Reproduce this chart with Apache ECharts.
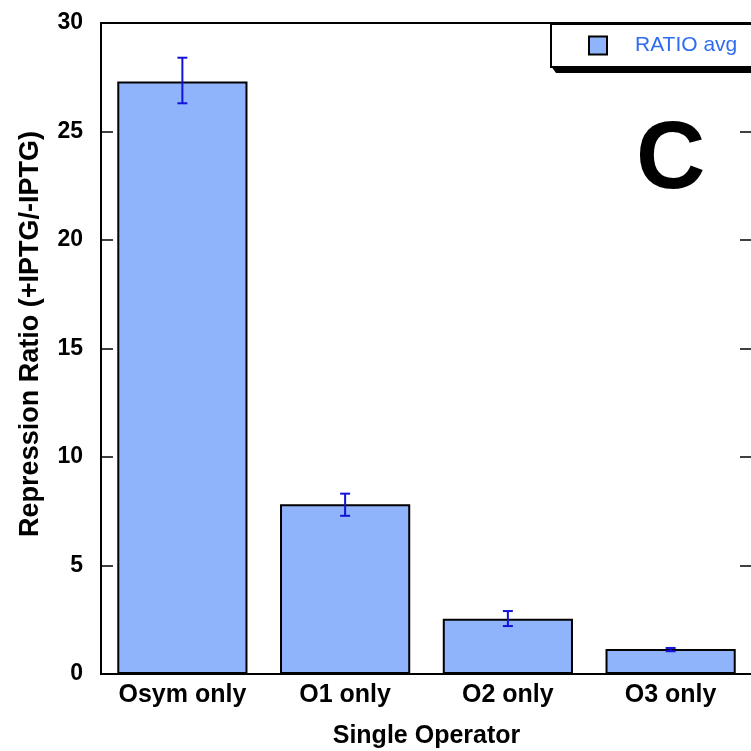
<!DOCTYPE html>
<html>
<head>
<meta charset="utf-8">
<script src="https://cdn.jsdelivr.net/npm/echarts@6/dist/echarts.min.js"></script>
<style>
  html, body { margin: 0; padding: 0; background: #fff; }
  #chart { width: 751px; height: 751px; }
</style>
</head>
<body>
<div id="chart"></div>
<script>
  // data
  var categories = ['Osym only', 'O1 only', 'O2 only', 'O3 only'];
  var ratioAvg = [27.3, 7.82, 2.55, 1.15];
  var errLow = [26.3, 7.29, 2.21, 1.05];
  var errHigh = [28.4, 8.31, 2.90, 1.20];
  var yTicks = [0, 5, 10, 15, 20, 25, 30];

  var font = 'Liberation Sans, Arial, sans-serif';
  var chart = echarts.init(document.getElementById('chart'));

  var errData = categories.map(function (c, i) {
    return [i, errLow[i], errHigh[i]];
  });

  chart.setOption({
    animation: false,
    backgroundColor: '#fff',
    grid: {
      left: 101, right: -1, top: 23, bottom: 77,
      containLabel: false,
      outerBoundsMode: 'none',
      show: true, borderColor: '#000', borderWidth: 2
    },
    legend: {
      left: 588, top: 35,
      padding: 0,
      itemWidth: 18, itemHeight: 18,
      data: [{ name: 'RATIO avg', icon: 'rect' }],
      textStyle: { color: '#2f6cf2', fontSize: 21, fontFamily: font, padding: [0, 0, 0, 23] }
    },
    graphic: [
      // legend frame with its drop shadow
      { type: 'polygon', z: 1, shape: { points: [[551, 66], [556, 73], [770, 73], [770, 66]] }, style: { fill: '#000' } },
      { type: 'rect', z: 2, shape: { x: 551, y: 24, width: 230, height: 43 }, style: { fill: '#fff', stroke: '#000', lineWidth: 2 } },
      {
        type: 'text', z: 5, left: 636, top: 114,
        style: { text: 'C', fontSize: 96, fontWeight: 'bold', fontFamily: font, fill: '#000' }
      },
      {
        type: 'text', z: 5, x: 31, y: 334, rotation: Math.PI / 2,
        style: {
          text: 'Repression Ratio (+IPTG/-IPTG)', fontSize: 27, fontWeight: 'bold', fontFamily: font,
          fill: '#000', align: 'center', verticalAlign: 'middle'
        }
      }
    ],
    xAxis: {
      type: 'category',
      data: categories,
      name: 'Single Operator',
      nameLocation: 'middle',
      nameGap: 50,
      nameTextStyle: { fontSize: 25, fontWeight: 'bold', fontFamily: font, color: '#000' },
      axisLine: { lineStyle: { color: '#000', width: 2 } },
      axisTick: { inside: true, length: 11, lineStyle: { color: '#000', width: 1.5 } },
      axisLabel: { interval: 0, hideOverlap: false, margin: 9, fontSize: 25, fontWeight: 'bold', fontFamily: font, color: '#000' }
    },
    yAxis: [{
      type: 'value',
      min: yTicks[0], max: yTicks[yTicks.length - 1], interval: 5,
      axisLine: { show: true, lineStyle: { color: '#000', width: 2 } },
      axisTick: { show: true, inside: true, length: 12, lineStyle: { color: '#000', width: 1.5 } },
      axisLabel: { margin: 18, fontSize: 23, fontWeight: 'bold', fontFamily: font, color: '#000' },
      splitLine: { show: false }
    }, {
      type: 'value', position: 'right',
      min: yTicks[0], max: yTicks[yTicks.length - 1], interval: 5,
      axisLine: { show: true, lineStyle: { color: '#000', width: 2 } },
      axisTick: { show: true, inside: true, length: 12, lineStyle: { color: '#000', width: 1.5 } },
      axisLabel: { show: false },
      splitLine: { show: false }
    }],
    series: [{
      name: 'RATIO avg',
      type: 'bar',
      data: ratioAvg,
      barWidth: '80%',
      itemStyle: { color: '#90b4fc', borderColor: '#000', borderWidth: 2 }
    }, {
      type: 'custom',
      data: errData,
      z: 10,
      renderItem: function (params, api) {
        var x = api.value(0);
        var lo = api.coord([x, api.value(1)]);
        var hi = api.coord([x, api.value(2)]);
        var w = 5;
        var st = { stroke: '#1212d8', lineWidth: 2 };
        return {
          type: 'group',
          children: [
            { type: 'line', shape: { x1: hi[0], y1: hi[1], x2: lo[0], y2: lo[1] }, style: st },
            { type: 'line', shape: { x1: hi[0] - w, y1: hi[1], x2: hi[0] + w, y2: hi[1] }, style: st },
            { type: 'line', shape: { x1: lo[0] - w, y1: lo[1], x2: lo[0] + w, y2: lo[1] }, style: st }
          ]
        };
      }
    }]
  });
</script>
</body>
</html>
